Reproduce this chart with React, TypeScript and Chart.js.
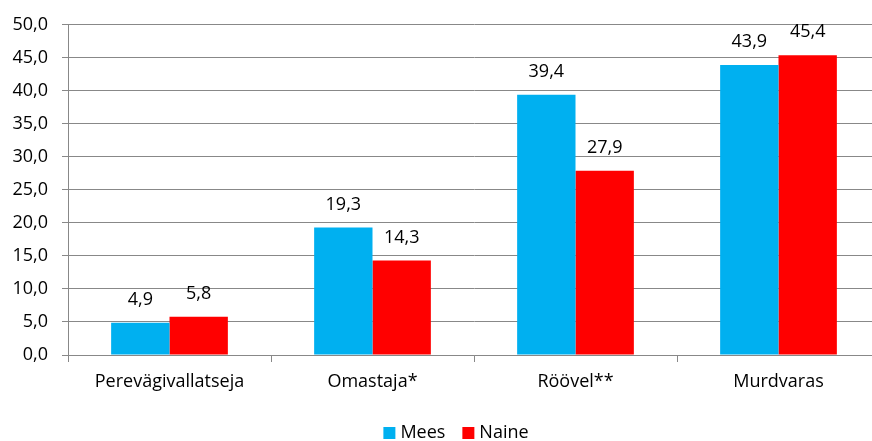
import React, { useEffect, useRef } from "react";
import { Chart, registerables } from "chart.js";

Chart.register(...registerables);

const categories = ["Perevägivallatseja", "Omastaja*", "Röövel**", "Murdvaras"];
const meesValues = [4.9, 19.3, 39.4, 43.9];
const naineValues = [5.8, 14.3, 27.9, 45.4];
const seriesNames = ["Mees", "Naine"];
const seriesColors = ["#00B0F0", "#FF0000"];

const FONT = "'Open Sans', sans-serif";
const FSIZE = 18;

const fmt = (v: number) => v.toFixed(1).replace(".", ",");

const dataLabelPlugin = {
  id: "dataLabels",
  afterDatasetsDraw(chart: any) {
    const ctx = chart.ctx;
    ctx.save();
    ctx.font = `${FSIZE}px ${FONT}`;
    ctx.fillStyle = "#000";
    ctx.textAlign = "center";
    ctx.textBaseline = "middle";
    chart.data.datasets.forEach((ds: any, i: number) => {
      const meta = chart.getDatasetMeta(i);
      meta.data.forEach((bar: any, j: number) => {
        ctx.fillText(fmt(ds.data[j]), bar.x, bar.y - 23);
      });
    });
    ctx.restore();
  },
};

const legendPlugin = {
  id: "customLegend",
  afterDraw(chart: any) {
    const ctx = chart.ctx;
    ctx.save();
    ctx.font = `${FSIZE}px ${FONT}`;
    ctx.textBaseline = "middle";
    ctx.textAlign = "left";
    const box = 12;
    const gap = 5;
    const itemGap = 17;
    const widths = seriesNames.map((n) => box + gap + ctx.measureText(n).width);
    const total = widths.reduce((a, b) => a + b, 0) + itemGap * (widths.length - 1);
    let x = 456 - total / 2;
    const cy = 433;
    seriesNames.forEach((n, i) => {
      ctx.fillStyle = seriesColors[i];
      ctx.fillRect(x, cy - box / 2, box, box);
      ctx.fillStyle = "#000";
      ctx.fillText(n, x + box + gap, cy);
      x += widths[i] + itemGap;
    });
    ctx.restore();
  },
};

export default function App() {
  const ref = useRef<HTMLCanvasElement>(null);
  useEffect(() => {
    if (!ref.current) return;
    const chart = new Chart(ref.current, {
      type: "bar",
      data: {
        labels: categories,
        datasets: [
          { label: seriesNames[0], data: meesValues, backgroundColor: seriesColors[0], borderWidth: 0 },
          { label: seriesNames[1], data: naineValues, backgroundColor: seriesColors[1], borderWidth: 0 },
        ],
      },
      options: {
        responsive: false,
        animation: false,
        devicePixelRatio: 1,
        layout: { padding: { top: 22, left: 0, right: 0, bottom: 0 } },
        datasets: { bar: { categoryPercentage: 0.575, barPercentage: 1 } },
        plugins: {
          tooltip: { enabled: false },
          legend: { display: false },
        },
        scales: {
          x: {
            offset: true,
            grid: { display: true, drawOnChartArea: false, drawTicks: true, tickLength: 7, offset: true, color: "#888" },
            border: { display: true, color: "#888" },
            ticks: { color: "#000", font: { family: FONT, size: FSIZE }, padding: 9, maxRotation: 0 },
            afterFit: (s: any) => { s.height = 86; },
          },
          y: {
            min: 0,
            max: 50,
            ticks: { stepSize: 5, color: "#000", font: { family: FONT, size: FSIZE }, padding: 14, callback: (v: any) => fmt(Number(v)) },
            grid: { color: "#888", tickLength: 6 },
            border: { display: true, color: "#888" },
            afterFit: (s: any) => { s.width = 68; },
          },
        },
      },
      plugins: [dataLabelPlugin, legendPlugin],
    } as any);
    return () => chart.destroy();
  }, []);
  return (
    <div style={{ position: "fixed", left: 0, top: 0, width: 872, height: 441, overflow: "hidden", background: "#fff" }}>
      <canvas ref={ref} width={880} height={441} style={{ display: "block" }} />
    </div>
  );
}
